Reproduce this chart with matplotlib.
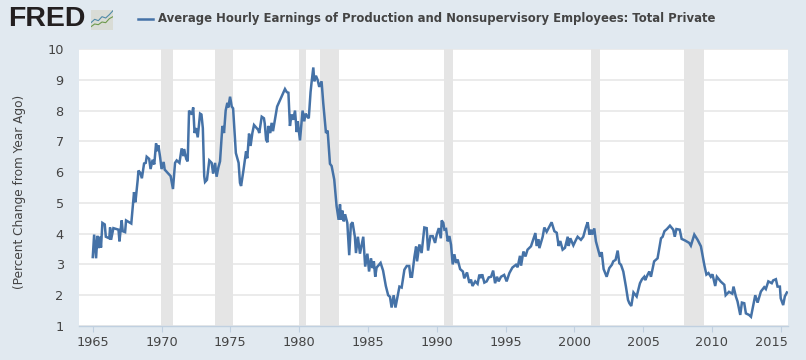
import matplotlib
matplotlib.use("Agg")
import matplotlib.pyplot as plt
from matplotlib.transforms import ScaledTranslation

years = [1965.0,1965.1,1965.24,1965.34,1965.43,1965.53,1965.6,1965.7,1965.87,1965.95,1966.2,1966.26,1966.33,1966.5,1966.87,1966.94,1967.1,1967.18,1967.35,1967.42,1967.8,1968.0,1968.1,1968.27,
1968.32,1968.45,1968.57,1968.73,1968.85,1968.92,1969.1,1969.2,1969.35,1969.47,1969.6,1969.7,1969.77,1969.9,1970.0,1970.15,1970.23,1970.66,1970.83,1970.98,1971.1,1971.3,1971.46,1971.6,1971.63,1971.8,1971.9,
1972.0,1972.2,1972.3,1972.4,1972.5,1972.63,1972.8,1972.9,1973.0,1973.1,1973.16,1973.3,1973.47,1973.64,1973.75,1973.89,1974.0,1974.13,1974.25,1974.42,1974.54,1974.66,1974.78,1974.85,1974.98,1975.1,1975.2,1975.4,1975.6,1975.7,1975.78,1975.95,
1976.14,1976.23,1976.36,1976.47,1976.6,1976.72,1977.03,1977.1,1977.28,1977.44,1977.5,1977.6,1977.7,1977.75,1977.9,1978.0,1978.1,1978.3,1978.4,1978.73,1978.97,1979.1,1979.22,1979.33,1979.45,1979.57,1979.7,1979.82,1979.9,1980.06,1980.25,1980.37,1980.47,1980.6,1980.7,1980.83,1980.9,
1981.03,1981.1,1981.22,1981.34,1981.46,1981.63,1981.75,1981.95,1982.07,1982.24,1982.36,1982.55,1982.72,1982.87,1982.97,1983.05,1983.14,1983.24,1983.34,1983.5,1983.64,1983.76,1983.88,1984.05,1984.13,1984.27,1984.42,1984.66,1984.8,1984.96,1985.08,1985.22,1985.35,1985.43,1985.53,1985.63,1985.92,1986.1,1986.3,1986.47,1986.6,1986.72,1986.87,1987.0,1987.13,1987.29,
1987.45,1987.65,1987.82,1988.0,1988.09,1988.2,1988.38,1988.5,1988.57,1988.74,1988.9,1989.1,1989.27,1989.37,1989.54,1989.71,1989.88,1990.0,1990.15,1990.3,1990.36,1990.48,1990.56,1990.68,1990.8,1990.92,1991.04,1991.16,1991.28,1991.4,1991.52,1991.7,1991.9,1992.0,1992.2,1992.37,1992.49,1992.6,1992.8,1992.97,1993.1,1993.22,1993.3,1993.46,1993.63,1993.78,1993.95,1994.1,1994.24,1994.38,1994.5,1994.67,1994.9,1995.08,1995.28,1995.5,1995.76,1995.88,1996.05,1996.13,1996.3,1996.45,1996.6,1996.85,1997.17,1997.26,1997.4,1997.46,1997.7,1997.82,1997.99,1998.18,1998.35,1998.55,1998.72,1998.86,1998.98,1999.15,1999.32,1999.52,1999.59,1999.71,1999.93,2000.12,2000.24,2000.48,2000.65,2000.85,2000.97,2001.1,2001.22,2001.3,2001.45,2001.57,2001.77,2001.87,2001.99,2002.13,2002.35,2002.54,2002.73,2002.83,2003.0,2003.15,2003.27,2003.39,2003.56,2003.75,2003.9,2004.0,2004.14,2004.3,2004.53,2004.77,2004.92,2005.08,2005.15,2005.32,2005.45,2005.57,2005.8,2006.05,2006.3,2006.42,2006.55,2006.73,2006.95,2007.19,2007.3,2007.42,2007.66,2007.8,2008.04,2008.35,2008.47,2008.72,2008.96,2009.2,2009.44,2009.6,2009.75,2009.92,2010.04,2010.24,2010.36,2010.65,2010.9,2011.0,2011.24,2011.48,2011.57,2011.74,2011.86,2012.06,2012.18,2012.35,2012.47,2012.7,2012.84,2013.03,2013.15,2013.32,2013.56,2013.8,2013.92,2014.1,2014.35,2014.45,2014.65,2014.77,2014.94,2015.0,2015.18,2015.3,2015.45]

change = [3.24,3.97,3.2,3.93,3.53,3.9,3.55,4.35,4.3,3.9,3.85,4.2,3.8,4.18,4.13,3.75,4.43,4.08,4.05,4.43,4.33,5.35,5.02,5.76,
6.05,5.98,5.8,6.28,6.3,6.5,6.43,6.1,6.4,6.25,6.93,6.68,6.87,6.47,6.1,6.33,6.08,5.87,5.45,6.3,6.38,6.3,6.77,6.52,6.75,6.42,6.35,
8.0,7.87,8.1,7.27,7.43,7.13,7.9,7.87,7.43,5.87,5.68,5.75,6.38,6.3,5.95,6.3,5.85,6.15,6.35,7.5,7.27,8.0,8.25,8.1,8.45,8.13,8.07,6.62,6.3,5.65,5.55,6.05,
6.67,6.45,7.25,6.85,7.27,7.53,7.37,7.27,7.8,7.75,7.58,7.05,6.97,7.5,7.27,7.6,7.33,7.85,8.13,8.46,8.7,8.6,8.58,7.5,7.87,7.7,8.0,7.3,7.65,7.03,8.0,7.65,7.9,7.8,7.75,8.6,8.9,
9.4,8.95,9.13,9.0,8.77,8.95,8.25,7.27,7.35,6.27,6.2,5.76,4.9,4.45,4.95,4.45,4.75,4.4,4.63,4.35,3.3,4.3,4.37,3.9,3.37,3.9,3.35,3.9,2.93,3.35,2.77,3.2,2.88,3.1,2.6,2.9,3.05,2.8,2.3,2.0,1.95,1.6,2.0,1.6,1.9,2.28,
2.25,2.83,2.95,2.95,2.6,2.6,3.25,3.58,3.1,3.65,3.37,4.2,4.18,3.45,3.92,3.92,3.7,3.97,4.18,3.85,4.43,4.35,4.13,4.15,3.75,3.92,3.64,3.0,3.33,3.05,3.16,2.85,2.77,2.55,2.74,2.4,2.51,2.3,2.45,2.37,2.67,2.56,2.68,2.41,2.45,2.58,2.6,2.8,2.39,2.6,2.45,2.6,2.66,2.45,2.72,2.9,2.99,2.91,3.28,2.96,3.42,3.26,3.48,3.59,4.02,3.6,3.82,3.53,3.9,4.2,4.06,4.22,4.37,4.08,4.03,3.6,3.76,3.48,3.54,3.9,3.6,3.85,3.62,3.8,3.9,3.8,3.9,4.22,4.37,3.97,4.13,3.97,4.17,3.75,3.42,3.25,3.4,2.85,2.6,2.88,2.99,3.1,3.15,3.45,3.04,2.99,2.77,2.28,1.85,1.74,1.65,2.09,1.96,2.39,2.52,2.6,2.49,2.66,2.77,2.6,3.1,3.2,3.85,3.9,4.08,4.15,4.26,4.13,3.9,4.15,4.13,3.83,3.78,3.7,3.61,3.97,3.8,3.59,3.0,2.67,2.72,2.6,2.68,2.3,2.6,2.44,2.34,2.0,2.11,2.05,2.28,1.96,1.8,1.36,1.76,1.74,1.41,1.36,1.3,1.74,2.0,1.76,2.12,2.26,2.2,2.45,2.39,2.48,2.52,2.28,2.28,1.9,1.68,1.96,2.09]

rec_start = [1969.98,1973.88,1980.0,1981.52,1990.52,2001.2,2007.95]
rec_end = [1970.85,1975.19,1980.5,1982.87,1991.2,2001.9,2009.45]
x_ticks = [1965,1970,1975,1980,1985,1990,1995,2000,2005,2010,2015]
y_ticks = [1,2,3,4,5,6,7,8,9,10]
title = "Average Hourly Earnings of Production and Nonsupervisory Employees: Total Private"
y_label = "(Percent Change from Year Ago)"

W, H = 806, 360
BG = "#e1e9f0"
LINE = "#4572a7"
TXT = "#444444"

fig = plt.figure(figsize=(W/100, H/100), dpi=100, facecolor=BG)
ax = fig.add_axes([79/W, 1-326/H, (788-79)/W, (326-49)/H], facecolor="white")
ax.set_xlim(1964.0, 2015.53)
ax.set_ylim(1, 10)

for a, b in zip(rec_start, rec_end):
    ax.axvspan(a, b, color="#e5e5e5", lw=0, zorder=1)
ax.set_yticks(y_ticks)
ax.set_xticks(x_ticks)
ax.grid(axis="y", color="#e6e6e6", lw=1.1, zorder=0)
ax.set_axisbelow(True)
ax.plot(years, change, color=LINE, lw=1.8, zorder=3, solid_joinstyle="miter")

for s in ("left", "right", "top"):
    ax.spines[s].set_visible(False)
ax.spines["bottom"].set_color("#c0d0e0")
ax.spines["bottom"].set_linewidth(1)
ax.tick_params(axis="y", length=0, labelsize=9.3, labelcolor=TXT, pad=11)
ax.tick_params(axis="x", length=4, width=0.8, color="#c0d0e0", labelsize=9.3, labelcolor=TXT, pad=3)
last = ax.get_xticklabels()[-1]
last.set_transform(last.get_transform() + ScaledTranslation(-0.09, 0, fig.dpi_scale_trans))

fig.text(20/W, 1-192/H, y_label, rotation=90, ha="center", va="center", fontsize=8.7, color=TXT)

fig.text(8/W, 1-19/H, "FRED", family="Liberation Sans", weight="bold", fontsize=20.5,
         color="#231f20", ha="left", va="center")
icon = fig.add_axes([91/W, 1-30/H, 22/W, 20/H], facecolor="#d9dcd6")
icon.set_xlim(0, 6); icon.set_ylim(0, 6); icon.axis("on")
icon.set_xticks([]); icon.set_yticks([])
for s in icon.spines.values():
    s.set_visible(False)
icon.plot([0, 1, 2, 3, 4, 5, 6], [2.2, 3.2, 2.8, 4.0, 3.6, 4.6, 5.8], color="#4f8aa8", lw=0.8)
icon.plot([0, 1, 2, 3, 4, 5, 6], [1.0, 1.8, 1.6, 2.4, 2.2, 3.4, 4.0], color="#6e9a4e", lw=0.8)

fig.add_artist(plt.Line2D([138/W, 153/W], [1-18.5/H]*2, color=LINE, lw=1.8))
fig.text(158/W, 1-18.5/H, title, fontsize=8.4, weight="bold", color=TXT, ha="left", va="center")

fig.savefig("out.png", dpi=100, facecolor=BG)
